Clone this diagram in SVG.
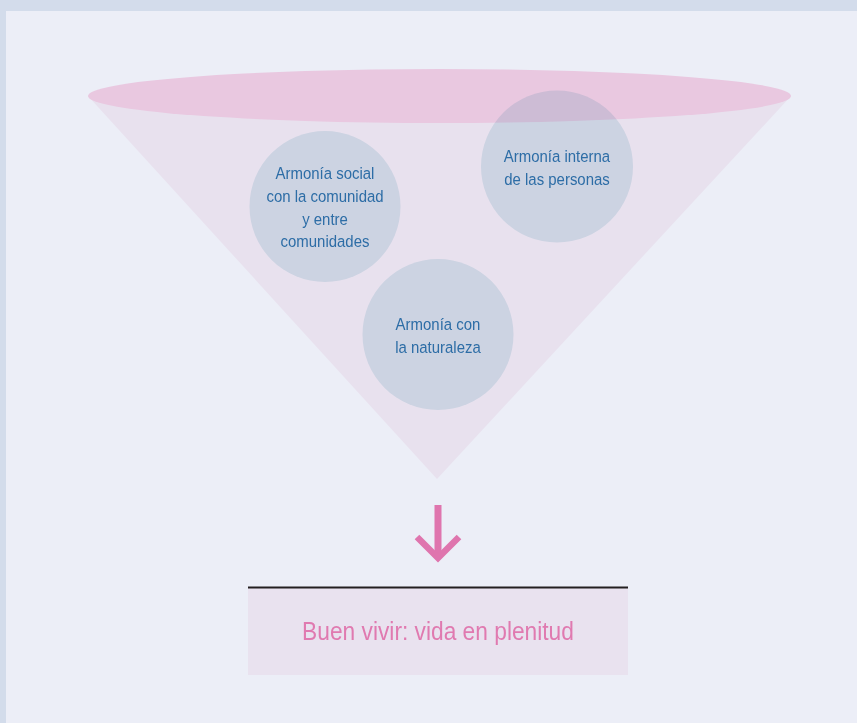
<svg xmlns="http://www.w3.org/2000/svg" width="857" height="723" viewBox="0 0 857 723">
<style>
.lbl{font-family:"Liberation Sans",Arial,sans-serif;font-size:17px;fill:#2D6DA6;text-anchor:middle}
.circ{fill:#E1F0F3;mix-blend-mode:multiply}
.main{font-family:"Liberation Sans",Arial,sans-serif;font-size:25px;fill:#E07AB0;text-anchor:middle}
</style>
<rect x="0" y="0" width="857" height="723" fill="#D3DCEB"/>
<rect x="6" y="11" width="851" height="712" fill="#ECEEF7"/>
<g id="funnel">
<polygon points="88,96 791,96 437,479" fill="#E8E1EE"/>
<ellipse cx="439.5" cy="96" rx="351.5" ry="27" fill="#E9C8E0"/>
</g>
<g id="node-social">
<circle class="circ" cx="325" cy="206.5" r="75.5"/>
<g transform="translate(325,0) scale(0.88,1)">
<text class="lbl" x="0" y="179">Armonía social</text>
<text class="lbl" x="0" y="202">con la comunidad</text>
<text class="lbl" x="0" y="225">y entre</text>
<text class="lbl" x="0" y="247">comunidades</text>
</g>
</g>
<g id="node-interna">
<circle class="circ" cx="557" cy="166.5" r="76"/>
<g transform="translate(557,0) scale(0.88,1)">
<text class="lbl" x="0" y="162">Armonía interna</text>
<text class="lbl" x="0" y="185">de las personas</text>
</g>
</g>
<g id="node-naturaleza">
<circle class="circ" cx="438" cy="334.5" r="75.5"/>
<g transform="translate(438,0) scale(0.88,1)">
<text class="lbl" x="0" y="330">Armonía con</text>
<text class="lbl" x="0" y="353">la naturaleza</text>
</g>
</g>
<g id="connectors">
<line x1="438" y1="505" x2="438" y2="558" stroke="#DF75AE" stroke-width="7"/>
<polyline points="417,537 438,558 459,537" fill="none" stroke="#DF75AE" stroke-width="6.5"/>
</g>
<g id="node-buen-vivir">
<rect x="248" y="588" width="380" height="87" fill="#E9E2EF"/>
<line x1="248" y1="587.5" x2="628" y2="587.5" stroke="#231F20" stroke-width="2"/>
<g transform="translate(438,0) scale(0.91,1)">
<text class="main" x="0" y="640">Buen vivir: vida en plenitud</text>
</g>
</g>
</svg>
